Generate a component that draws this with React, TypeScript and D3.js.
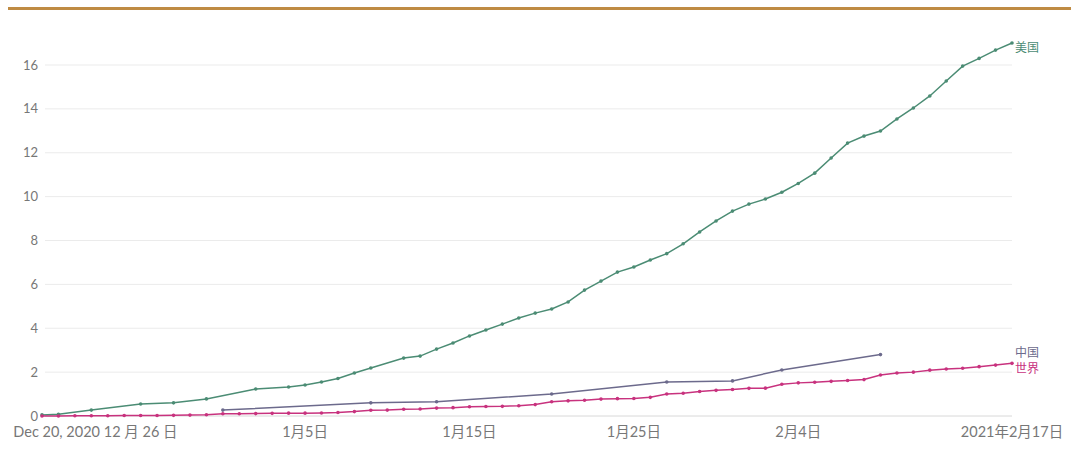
import React from "react";
import * as d3 from "d3";

const startDate = new Date(2020, 11, 20);
const usDays = [0, 1, 3, 6, 8, 10, 13, 15, 16, 17, 18, 19, 20, 22, 23, 24, 25, 26, 27, 28, 29, 30, 31, 32, 33, 34, 35, 36, 37, 38, 39, 40, 41, 42, 43, 44, 45, 46, 47, 48, 49, 50, 51, 52, 53, 54, 55, 56, 57, 58, 59];
const usValues = [0.05, 0.08, 0.27, 0.55, 0.6, 0.78, 1.23, 1.32, 1.41, 1.55, 1.71, 1.96, 2.19, 2.64, 2.73, 3.05, 3.33, 3.65, 3.92, 4.19, 4.47, 4.69, 4.88, 5.2, 5.74, 6.15, 6.56, 6.79, 7.11, 7.4, 7.85, 8.39, 8.89, 9.34, 9.66, 9.89, 10.2, 10.6, 11.07, 11.76, 12.44, 12.76, 12.99, 13.54, 14.04, 14.59, 15.27, 15.95, 16.3, 16.68, 17.0];
const chinaDays = [11, 20, 24, 31, 38, 42, 45, 51];
const chinaValues = [0.27, 0.6, 0.65, 1.0, 1.55, 1.6, 2.1, 2.8];
const worldValues = [0.0, 0.0, 0.01, 0.01, 0.01, 0.02, 0.02, 0.02, 0.03, 0.04, 0.06, 0.1, 0.1, 0.11, 0.12, 0.13, 0.13, 0.14, 0.16, 0.2, 0.26, 0.27, 0.31, 0.32, 0.36, 0.38, 0.42, 0.43, 0.44, 0.47, 0.52, 0.65, 0.69, 0.72, 0.77, 0.79, 0.8, 0.85, 1.0, 1.04, 1.12, 1.17, 1.21, 1.26, 1.27, 1.45, 1.51, 1.54, 1.58, 1.62, 1.66, 1.87, 1.96, 2.0, 2.09, 2.14, 2.18, 2.25, 2.32, 2.4];
const yTicks = [0, 2, 4, 6, 8, 10, 12, 14, 16];
const xTickDays = [6, 16, 26, 36, 46, 59];
const xTickLabels = ["12 月 26 日", "1月5日", "1月15日", "1月25日", "2月4日", "2021年2月17日"];
const firstTickLabel = "Dec 20, 2020";
const seriesNames = ["美国", "中国", "世界"];
const seriesColors = ["#4b8c74", "#6c6a8c", "#c8327e"];

export default function App() {
  const W = 1071, H = 453;
  const x = d3.scaleLinear().domain([0, 59]).range([42, 1012]);
  const y = d3.scaleLinear().domain([0, 16]).range([416, 65]);
  const line = d3.line<[number, number]>().x(d => x(d[0])).y(d => y(d[1]));
  const us: [number, number][] = usDays.map((d, i) => [d, usValues[i]]);
  const cn: [number, number][] = chinaDays.map((d, i) => [d, chinaValues[i]]);
  const wd: [number, number][] = worldValues.map((v, i) => [i, v]);
  const series = [us, cn, wd];
  const font = "Lato, 'Noto Sans CJK SC', sans-serif";
  const labelY = [us[us.length - 1][1], cn[cn.length - 1][1], wd[wd.length - 1][1]];
  const labelOffsets = [5, -2, 5];
  return (
    <svg width={W} height={H} style={{ position: "absolute", left: 0, top: 0 }}>
      <rect x={0} y={0} width={W} height={H} fill="#fff" />
      <rect x={8} y={7} width={W - 8} height={3} fill="#bf8b43" />
      {yTicks.map(t => (
        <g key={t}>
          <line x1={45} x2={1012} y1={y(t)} y2={y(t)} stroke={t === 0 ? "#d8d8d8" : "#ebebeb"} strokeWidth={1} />
          <text x={38} y={y(t)} dy="0.35em" textAnchor="end" fontSize={13} fill="#777" fontFamily={font}>{t}</text>
        </g>
      ))}
      <text x={100} y={437} textAnchor="end" fontSize={14.5} fill="#777" fontFamily={font}>{firstTickLabel}</text>
      {xTickDays.map((d, i) => (
        <text key={d} x={x(d)} y={437} textAnchor="middle" fontSize={14.5} fill="#777" fontFamily={font}>{xTickLabels[i]}</text>
      ))}
      {series.map((s, i) => (
        <g key={i}>
          <path d={line(s) || ""} fill="none" stroke={seriesColors[i]} strokeWidth={1.5} />
          {s.map((p, j) => (
            <circle key={j} cx={x(p[0])} cy={y(p[1])} r={1.8} fill={seriesColors[i]} />
          ))}
          <text x={1015} y={y(labelY[i]) + labelOffsets[i]} dy="0.35em" fontSize={12} fill={seriesColors[i]} fontFamily={font}>{seriesNames[i]}</text>
        </g>
      ))}
    </svg>
  );
}
